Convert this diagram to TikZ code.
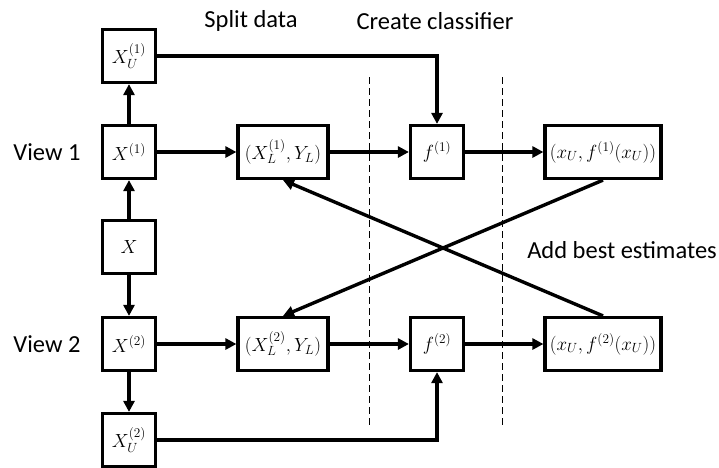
\documentclass[tikz,border=0pt]{standalone}
\usepackage{fix-cm}
\usepackage{fontspec}
\setmainfont{Carlito}
\usetikzlibrary{arrows.meta}
\begin{document}
\begin{tikzpicture}[x=1pt,y=-1pt,
  box/.style={draw, line width=3.2pt, minimum height=53pt, inner sep=0pt, font=\fontsize{19}{22}\selectfont},
  sq/.style={box, minimum width=53pt},
  mid/.style={box, minimum width=90pt},
  wide/.style={box, minimum width=116pt},
  lab/.style={font=\fontsize{24.5}{28}\selectfont, inner sep=0pt},
  arr/.style={line width=3.4pt, -{Triangle[length=11pt,width=11pt]}},
  sep/.style={line width=0.9pt, dash pattern=on 7pt off 4pt}]
\useasboundingbox (0,0) rectangle (719,467);
% nodes
\node[sq] (xu1) at (129,56) {$X_U^{(1)}$};
\node[sq] (x1) at (129,152) {$X^{(1)}$};
\node[sq] (x) at (129,247) {$X$};
\node[sq] (x2) at (129,344) {$X^{(2)}$};
\node[sq] (xu2) at (129,440) {$X_U^{(2)}$};
\node[mid] (xl1) at (283,152) {$(X_L^{(1)},Y_L)$};
\node[mid] (xl2) at (283,344) {$(X_L^{(2)},Y_L)$};
\node[sq] (f1) at (437,152) {$f^{(1)}$};
\node[sq] (f2) at (437,344) {$f^{(2)}$};
\node[wide] (o1) at (603,152) {$(x_U,f^{(1)}(x_U))$};
\node[wide] (o2) at (603,344) {$(x_U,f^{(2)}(x_U))$};
% labels
\node[lab] (l1) at (47,152) {View 1};
\node[lab] (l2) at (47,344) {View 2};
\node[lab] (ls) at (251,21) {Split data};
\node[lab] (lc) at (435,21) {Create classifier};
\node[lab] (la) at (622,250) {Add best estimates};
% dashed separators
\coordinate (d1t) at (369,77); \coordinate (d1b) at (369,427);
\coordinate (d2t) at (502,77); \coordinate (d2b) at (502,427);
\draw[sep] (d1t) -- (d1b);
\draw[sep] (d2t) -- (d2b);
% connectors
\draw[arr] (x) -- (x1);
\draw[arr] (x) -- (x2);
\draw[arr] (x1) -- (xu1);
\draw[arr] (x2) -- (xu2);
\draw[arr] (x1) -- (xl1);
\draw[arr] (x2) -- (xl2);
\draw[arr] (xl1) -- (f1);
\draw[arr] (xl2) -- (f2);
\draw[arr] (f1) -- (o1);
\draw[arr] (f2) -- (o2);
\draw[arr] (xu1.east) -| (f1.north);
\draw[arr] (xu2.east) -| (f2.south);
\draw[arr] (o1.south) -- (xl2.north);
\draw[arr] (o2.north) -- (xl1.south);
\end{tikzpicture}
\end{document}
